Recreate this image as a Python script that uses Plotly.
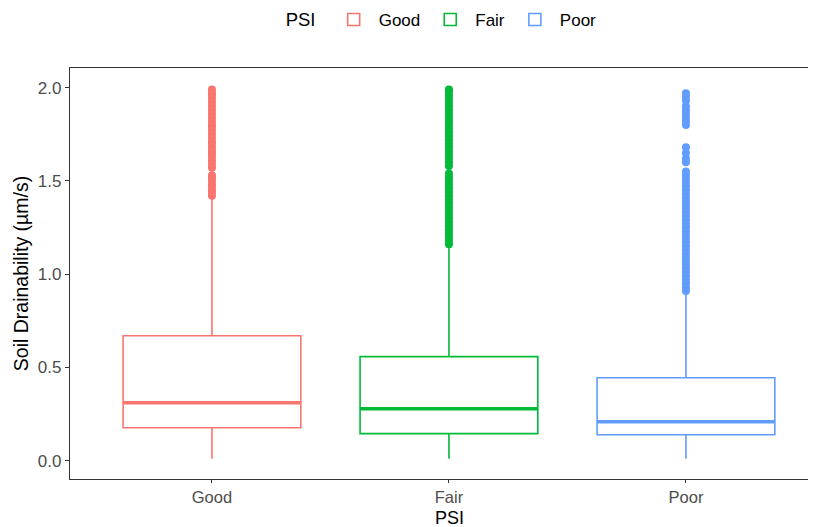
import plotly.graph_objects as go

categories = ["Good", "Fair", "Poor"]
colors = ["#F8766D", "#00BA38", "#619CFF"]
lower_fence = [0.01, 0.01, 0.01]
q1 = [0.177, 0.145, 0.139]
median = [0.311, 0.279, 0.209]
q3 = [0.670, 0.558, 0.445]
upper_fence = [1.41, 1.15, 0.90]

outliers_good = [1.42, 1.44, 1.45, 1.47, 1.48, 1.50, 1.52, 1.53, 1.57, 1.59, 1.61, 1.63,
                 1.65, 1.66, 1.68, 1.70, 1.71, 1.73, 1.75, 1.77, 1.79, 1.80, 1.82, 1.84,
                 1.86, 1.88, 1.90, 1.92, 1.94, 1.96, 1.97, 1.99]
outliers_fair = [1.16, 1.18, 1.20, 1.22, 1.24, 1.26, 1.28, 1.30, 1.32, 1.34, 1.36, 1.38,
                 1.40, 1.42, 1.44, 1.46, 1.48, 1.50, 1.52, 1.54, 1.58, 1.60, 1.62, 1.64,
                 1.66, 1.68, 1.70, 1.72, 1.74, 1.76, 1.78, 1.80, 1.82, 1.84, 1.86, 1.88,
                 1.90, 1.92, 1.94, 1.96, 1.98, 1.99]
outliers_poor = [0.91, 0.93, 0.95, 0.97, 0.99, 1.01, 1.03, 1.05, 1.07, 1.09, 1.11, 1.13,
                 1.15, 1.17, 1.19, 1.21, 1.23, 1.25, 1.27, 1.29, 1.31, 1.33, 1.35, 1.37,
                 1.39, 1.41, 1.43, 1.45, 1.47, 1.49, 1.51, 1.53, 1.55, 1.60, 1.62, 1.65,
                 1.68, 1.80, 1.82, 1.84, 1.86, 1.88, 1.90, 1.93, 1.95, 1.97]
outliers = [outliers_good, outliers_fair, outliers_poor]

y_ticks = [0.0, 0.5, 1.0, 1.5, 2.0]
box_width = 0.75
FONT = "Arial, Liberation Sans, sans-serif"

fig = go.Figure()
for i, cat in enumerate(categories):
    fig.add_trace(go.Box(
        x=[i], q1=[q1[i]], median=[median[i]], q3=[q3[i]],
        lowerfence=[lower_fence[i]], upperfence=[upper_fence[i]],
        name=cat, width=box_width, whiskerwidth=0,
        fillcolor="white", line=dict(color=colors[i], width=1.6),
        boxpoints=False, legendgroup=cat,
    ))
    fig.add_trace(go.Scatter(
        x=[i] * len(outliers[i]), y=outliers[i], mode="markers",
        marker=dict(color=colors[i], size=8), showlegend=False,
        legendgroup=cat, hoverinfo="y",
    ))
    fig.add_trace(go.Scatter(
        x=[i - box_width / 2, i + box_width / 2], y=[median[i], median[i]],
        mode="lines", line=dict(color=colors[i], width=3.5),
        showlegend=False, legendgroup=cat, hoverinfo="skip",
    ))

fig.update_layout(
    width=800, height=527,
    margin=dict(l=62, r=0, t=60, b=56, autoexpand=False),
    plot_bgcolor="white", paper_bgcolor="white",
    font=dict(family=FONT, color="black"),
    showlegend=True,
    legend=dict(
        orientation="h", x=0.505, xanchor="center", xref="paper",
        y=1.117, yref="paper", yanchor="middle",
        title=dict(text="PSI ", font=dict(size=18.5, color="black"), side="left"),
        font=dict(size=17, color="black"),
        itemwidth=40,
    ),
    xaxis=dict(
        range=[-0.599, 2.515], tickvals=[0, 1, 2], ticktext=categories,
        showgrid=False, zeroline=False,
        showline=True, linecolor="#333333", linewidth=1.2, mirror=True,
        ticks="outside", ticklen=3, tickcolor="#333333", tickwidth=1.2,
        tickfont=dict(size=16.5, color="#4d4d4d"),
    ),
    yaxis=dict(
        range=[-0.098, 2.105], tickvals=y_ticks, tickformat=".1f",
        showgrid=False, zeroline=False,
        showline=True, linecolor="#333333", linewidth=1.2,
        ticks="outside", ticklen=4, tickcolor="#333333", tickwidth=1.2,
        tickfont=dict(size=17, color="#4d4d4d"),
        title=dict(text="Soil Drainability (µm/s)", font=dict(size=19.5, color="black"), standoff=4),
    ),
    annotations=[dict(
        text="PSI", xref="paper", yref="paper", x=0.5136, y=-0.094,
        xanchor="center", yanchor="middle", showarrow=False,
        font=dict(size=18, color="black"),
    )],
)

fig.write_html("out.html")
